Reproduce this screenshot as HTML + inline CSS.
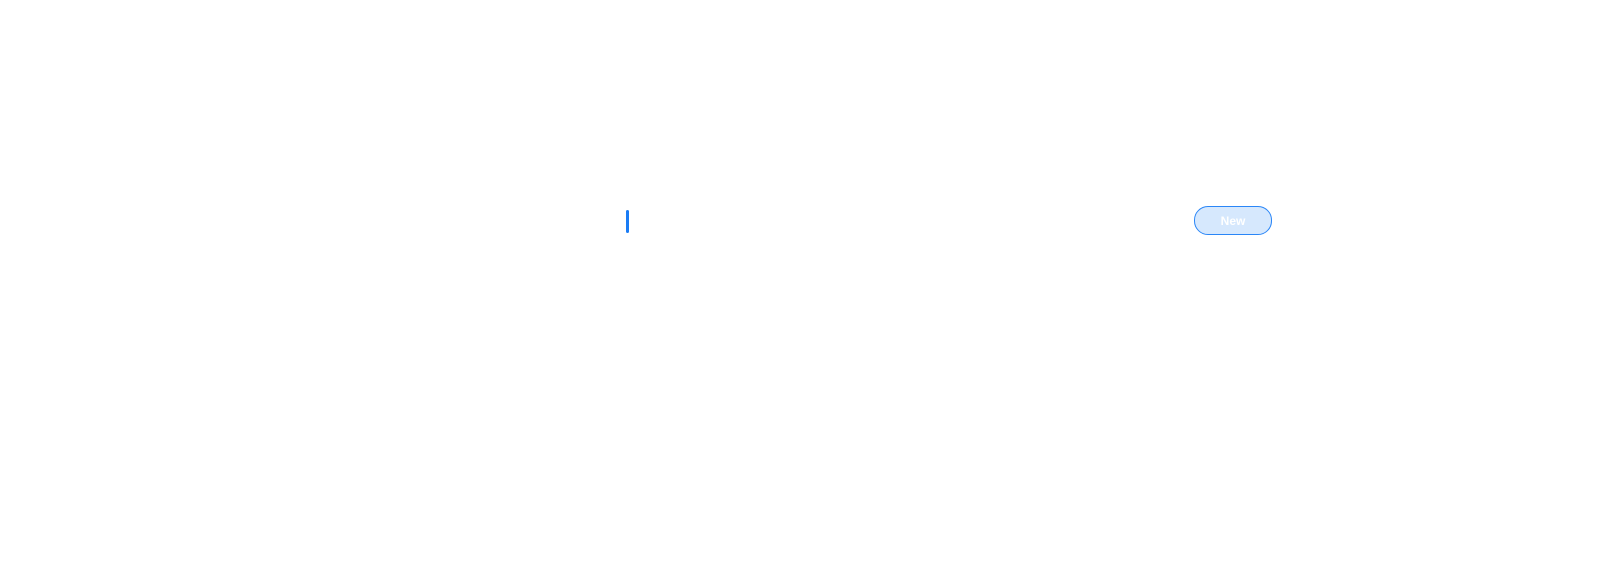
<!DOCTYPE html>
<html><head><meta charset="utf-8"><style>
html,body{margin:0;padding:0;background:#fff;width:1600px;height:567px;overflow:hidden;position:relative}
.bar{position:absolute;left:626px;top:210px;width:3px;height:23px;background:#1a7cf5;border-radius:1.5px}
.btn{position:absolute;left:1194px;top:206px;width:76px;height:27px;border:1px solid #2a86f7;border-radius:14px;background:#d6e8fd;color:#fff;font:bold 12px "Liberation Sans",sans-serif;text-align:center;line-height:28px}
</style></head><body>
<div class="bar"></div>
<div class="btn">New</div>
</body></html>
